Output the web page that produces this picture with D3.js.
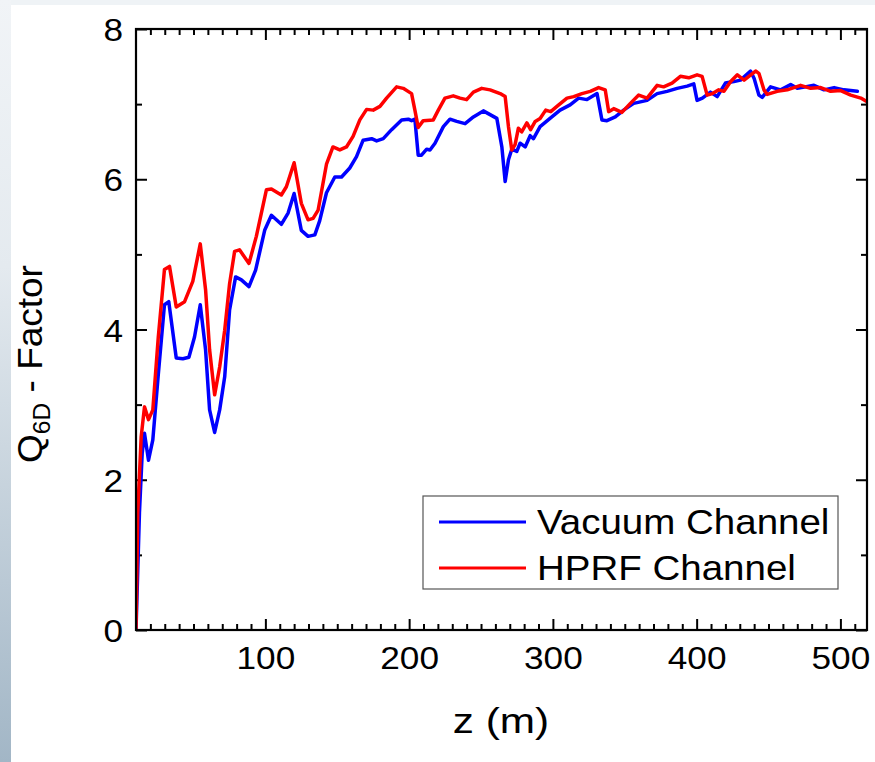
<!DOCTYPE html>
<html>
<head>
<meta charset="utf-8">
<script src="https://cdn.jsdelivr.net/npm/d3@7"></script>
<style>
html,body{margin:0;padding:0;background:#fff;}
svg{display:block;}
text{font-family:"Liberation Sans",Arial,Helvetica,sans-serif;fill:#000;}
</style>
</head>
<body>
<svg id="chart" width="875" height="762"></svg>
<script>
// ---- data ----
const vacuumZ = [10,12.4,14.3,15.9,18.7,21.7,25.5,29.8,32.8,38,42.6,46.8,50.7,54.7,58.4,61.2,64.7,68.2,71.7,75.1,79.3,83.3,88.6,93.2,99.5,104.2,111.1,115.8,120,125,129.7,134.4,137.8,142.5,148.3,153,158.7,163.4,168,173.9,177.4,182,187.8,194.8,199.4,201.7,204,206.3,208.6,212.2,214.5,218,223.8,228.4,233.1,238.9,244.7,251.6,256.3,261,264.5,266.8,269.1,271.4,274.9,277.2,280.7,284.2,286.5,291.1,298,305,312,317.9,323.7,330.7,334.1,337.6,343.4,349.2,356.2,365.5,372.5,379.4,386.4,393.4,398,400.3,404,409.6,414.3,420,425.9,430.5,437.5,440,443.3,445.6,451.4,458.4,465.4,470,481.6,488.6,495.6,502.5,511.8];
const vacuumQ = [0,1.56,2.35,2.62,2.26,2.53,3.4,4.33,4.37,3.62,3.61,3.63,3.9,4.33,3.73,2.93,2.63,2.93,3.37,4.26,4.70,4.66,4.57,4.79,5.32,5.52,5.40,5.55,5.81,5.32,5.24,5.26,5.45,5.82,6.03,6.03,6.15,6.30,6.52,6.54,6.51,6.54,6.66,6.79,6.80,6.78,6.80,6.32,6.32,6.40,6.39,6.48,6.70,6.80,6.77,6.74,6.83,6.91,6.86,6.81,6.43,5.97,6.26,6.40,6.37,6.48,6.43,6.58,6.54,6.70,6.81,6.92,6.99,7.08,7.06,7.14,6.79,6.78,6.83,6.92,7.01,7.05,7.14,7.17,7.21,7.24,7.27,7.05,7.08,7.16,7.10,7.28,7.30,7.32,7.44,7.34,7.12,7.09,7.23,7.19,7.26,7.21,7.25,7.19,7.22,7.19,7.17];

const hprfZ = [10,11.2,13.6,15.9,18.7,21.7,25.5,29.8,33.3,38,43.8,49.5,54.7,58.4,61.2,64.7,68.2,71.7,75.1,78.6,82,88.6,93.7,100.7,104.2,111.1,114.6,120,125,129.7,133.2,136.7,142.5,147,151.8,156.4,161,165.7,170.4,175,179.7,184.3,191.3,195.9,201.7,204,206.3,209.8,216.8,220.3,224.9,230.7,235.4,240,244.7,250.5,256.3,263.3,266.8,269.1,271.4,273.7,276,278.3,281.9,284.5,287.7,291.1,295,298.5,302.8,309.8,314.5,320.2,326,331.8,336.4,338.8,342.3,348,353.9,359.7,365.5,372.5,377,382.9,388.7,394.5,400.3,403.8,407.3,411,415.4,419,423.7,428.3,433,441,443.3,446.8,449.1,456,463,472.3,479.3,486.3,493.2,500.2,507.2,514.2,517.7];
const hprfQ = [0,1.55,2.57,2.97,2.80,2.93,3.9,4.80,4.84,4.30,4.37,4.64,5.14,4.53,3.73,3.13,3.50,3.99,4.61,5.04,5.06,4.88,5.24,5.86,5.87,5.79,5.90,6.22,5.68,5.46,5.48,5.59,6.20,6.43,6.39,6.43,6.57,6.79,6.93,6.92,6.97,7.08,7.23,7.21,7.14,6.92,6.69,6.78,6.79,6.92,7.08,7.11,7.08,7.06,7.16,7.21,7.19,7.14,7.10,6.70,6.39,6.46,6.68,6.63,6.75,6.66,6.77,6.81,6.92,6.90,6.97,7.08,7.10,7.14,7.17,7.22,7.19,6.90,6.94,6.89,7.01,7.12,7.08,7.25,7.23,7.28,7.37,7.35,7.39,7.37,7.12,7.14,7.19,7.17,7.30,7.39,7.32,7.44,7.41,7.19,7.13,7.17,7.19,7.25,7.21,7.22,7.17,7.18,7.12,7.08,7.04];

const seriesNames = ["Vacuum Channel","HPRF Channel"];
const seriesColors = ["#0000ff","#ff0000"];
const xMajorTicks = [100,200,300,400,500];
const yMajorTicks = [0,2,4,6,8];
const yMinorTicks = [1,3,5,7];
const xDomain = [10,518.5];
const yDomain = [0,8];

// ---- layout ----
const L = 136, R = 867, T = 29, B = 630;
const SX = 1.1; // horizontal text stretch seen in the reference
const svg = d3.select("#chart");

// slide background
const defs = svg.append("defs");
const grad = defs.append("linearGradient").attr("id","side").attr("x1",0).attr("y1",0).attr("x2",0).attr("y2",1);
grad.append("stop").attr("offset","0%").attr("stop-color","#f1f4f7");
grad.append("stop").attr("offset","35%").attr("stop-color","#e4eaef");
grad.append("stop").attr("offset","100%").attr("stop-color","#a2b6c6");
svg.append("rect").attr("x",0).attr("y",0).attr("width",875).attr("height",762).attr("fill","#eff3f6");
svg.append("rect").attr("x",0).attr("y",0).attr("width",11).attr("height",762).attr("fill","url(#side)");
svg.append("rect").attr("x",11).attr("y",5).attr("width",864).attr("height",757).attr("fill","#ffffff");

const x = d3.scaleLinear().domain(xDomain).range([L,R]);
const y = d3.scaleLinear().domain(yDomain).range([B,T]);

// minor x ticks every 10
const xMinor = d3.range(20,519,10).filter(v => v % 100 !== 0);

function styleAxis(g){
  g.select(".domain").remove();
  g.selectAll(".tick line").attr("stroke","#000").attr("stroke-width",2);
}

// bottom
svg.append("g").attr("transform",`translate(0,${B})`)
  .call(d3.axisBottom(x).tickValues(xMinor).tickSize(-6).tickFormat(""))
  .call(styleAxis);
const bx = svg.append("g").attr("transform",`translate(0,${B})`)
  .call(d3.axisBottom(x).tickValues(xMajorTicks).tickSize(-11).tickPadding(16).tickFormat(d3.format("d")))
  .call(styleAxis);
bx.selectAll(".tick text").attr("font-size",32).attr("dy","0.71em").attr("transform",`scale(${SX},1)`);

// top
svg.append("g").attr("transform",`translate(0,${T})`)
  .call(d3.axisTop(x).tickValues(xMinor).tickSize(-6).tickFormat(""))
  .call(styleAxis);
svg.append("g").attr("transform",`translate(0,${T})`)
  .call(d3.axisTop(x).tickValues(xMajorTicks).tickSize(-11).tickFormat(""))
  .call(styleAxis);

// left
svg.append("g").attr("transform",`translate(${L},0)`)
  .call(d3.axisLeft(y).tickValues(yMinorTicks).tickSize(-6).tickFormat(""))
  .call(styleAxis);
const ly = svg.append("g").attr("transform",`translate(${L},0)`)
  .call(d3.axisLeft(y).tickValues(yMajorTicks).tickSize(-11).tickFormat(d3.format("d")))
  .call(styleAxis);
ly.selectAll(".tick text").attr("font-size",32).attr("x",-13/SX).attr("dy","0.36em").attr("transform",`scale(${SX},1)`);

// right
svg.append("g").attr("transform",`translate(${R},0)`)
  .call(d3.axisRight(y).tickValues(yMinorTicks).tickSize(-6).tickFormat(""))
  .call(styleAxis);
svg.append("g").attr("transform",`translate(${R},0)`)
  .call(d3.axisRight(y).tickValues(yMajorTicks).tickSize(-11).tickFormat(""))
  .call(styleAxis);

// lines
const line = d3.line().x(d => x(d[0])).y(d => y(d[1]));
const clip = defs.append("clipPath").attr("id","plot");
clip.append("rect").attr("x",L).attr("y",T).attr("width",R-L).attr("height",B-T);
const seriesData = [
  d3.zip(vacuumZ, vacuumQ),
  d3.zip(hprfZ, hprfQ)
];
seriesData.forEach((s,i) => {
  svg.append("path").datum(s).attr("d",line).attr("fill","none")
    .attr("stroke",seriesColors[i]).attr("stroke-width",3.5)
    .attr("stroke-linejoin","round").attr("stroke-linecap","round")
    .attr("clip-path","url(#plot)");
});

// frame
svg.append("rect").attr("x",L).attr("y",T).attr("width",R-L).attr("height",B-T)
  .attr("fill","none").attr("stroke","#000").attr("stroke-width",2.2);

// legend
const lg = svg.append("g");
lg.append("rect").attr("x",423).attr("y",496).attr("width",415).attr("height",93)
  .attr("fill","#fff").attr("stroke","#555").attr("stroke-width",1.2);
seriesNames.forEach((n,i) => {
  const yy = 522 + i*46;
  lg.append("line").attr("x1",439).attr("x2",526).attr("y1",yy).attr("y2",yy)
    .attr("stroke",seriesColors[i]).attr("stroke-width",3);
  lg.append("text").attr("transform",`translate(537,${yy+12}) scale(${SX},1)`)
    .attr("font-size",35).text(n);
});

// axis titles
svg.append("text").attr("transform",`translate(501,733) scale(${SX*1.1},1)`)
  .attr("text-anchor","middle").attr("font-size",35).text("z (m)");

const yt = svg.append("text").attr("transform",`translate(42,364) rotate(-90) scale(1.12,1.06)`)
  .attr("text-anchor","middle").attr("font-size",33);
yt.append("tspan").text("Q");
yt.append("tspan").attr("font-size",22).attr("dy",8).text("6D");
yt.append("tspan").attr("dy",-8).text(" - Factor");
</script>
</body>
</html>
